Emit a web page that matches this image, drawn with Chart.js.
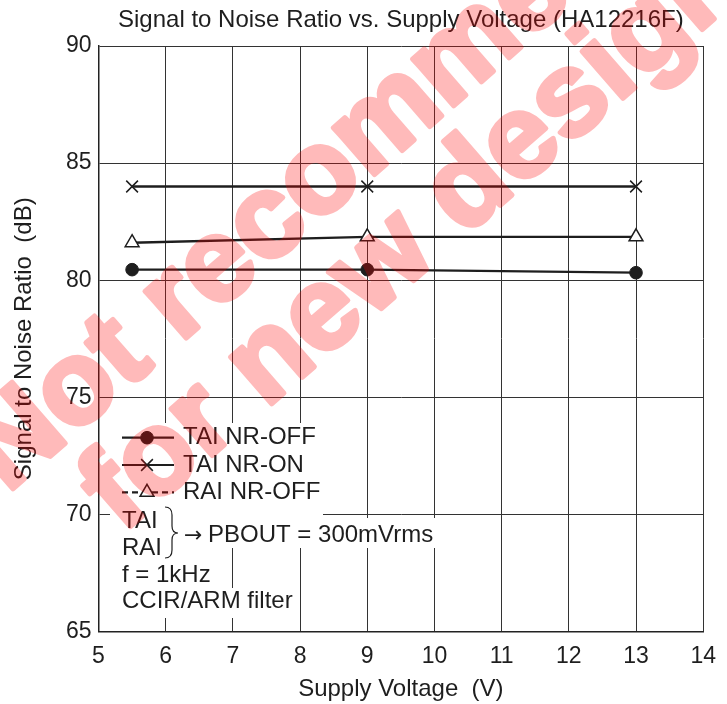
<!DOCTYPE html>
<html>
<head>
<meta charset="utf-8">
<script src="https://cdn.jsdelivr.net/npm/chart.js@4.4.1/dist/chart.umd.min.js"></script>
<style>
  html, body { margin: 0; padding: 0; background: #fff; }
  #wrap { width: 727px; height: 704px; }
</style>
</head>
<body>
<div id="wrap"><canvas id="snr-chart"></canvas></div>
<script>
// Données
const voltage = [5.5, 9, 13];
const taiNrOff = [80.45, 80.45, 80.32];
const taiNrOn = [84.0, 84.0, 84.0];
const raiNrOff = [81.6, 81.85, 81.85];
const seriesLabels = ['TAI NR-OFF', 'TAI NR-ON', 'RAI NR-OFF'];
const xRange = [5, 14];
const yRange = [65, 90];

const FONT = '"Liberation Sans", Arial, Helvetica, sans-serif';
const INK = '#1e1e1e';

const toPoints = ys => voltage.map((v, i) => ({ x: v, y: ys[i] }));

// Titre centré sur la zone du graphe
const titlePlugin = {
    id: 'plotTitle',
    afterDraw(chart) {
        const { ctx, chartArea } = chart;
        ctx.save();
        ctx.fillStyle = INK;
        ctx.font = '24px ' + FONT;
        ctx.textAlign = 'center';
        ctx.textBaseline = 'middle';
        ctx.fillText('Signal to Noise Ratio vs. Supply Voltage (HA12216F)', (chartArea.left + chartArea.right) / 2, 20);
        ctx.restore();
    }
};

// Légende + notes dans le graphe (fond blanc)
const notesPlugin = {
    id: 'notes',
    afterDatasetsDraw(chart) {
        const { ctx } = chart;
        const ds = chart.data.datasets;
        ctx.save();
        ctx.fillStyle = '#fff';
        ctx.fillRect(110, 423, 213, 95);
        ctx.fillRect(110, 508, 72, 54);
        ctx.fillRect(180, 518, 258, 30);
        ctx.fillRect(110, 562, 102, 26);
        ctx.fillRect(110, 588, 184, 30);

        const rows = [437.7, 465, 492.3];
        ds.forEach((d, i) => {
            const y = rows[i];
            ctx.strokeStyle = INK;
            ctx.lineWidth = 2.2;
            ctx.setLineDash(i === 2 ? [6, 4] : []);
            ctx.beginPath();
            ctx.moveTo(122, y);
            ctx.lineTo(174, y);
            ctx.stroke();
            ctx.setLineDash([]);
            ctx.fillStyle = d.pointBackgroundColor;
            ctx.strokeStyle = INK;
            ctx.lineWidth = d.pointBorderWidth;
            Chart.helpers.drawPoint(ctx, {
                pointStyle: d.pointStyle, radius: d.pointRadius,
                borderWidth: d.pointBorderWidth, rotation: 0
            }, 147, y);
            ctx.fillStyle = INK;
            ctx.font = '24px ' + FONT;
            ctx.textAlign = 'left';
            ctx.textBaseline = 'middle';
            ctx.fillText(d.label, 183, y);
        });

        ctx.fillStyle = INK;
        ctx.font = '24px ' + FONT;
        ctx.textAlign = 'left';
        ctx.textBaseline = 'middle';
        ctx.fillText('TAI', 122, 521.7);
        ctx.fillText('RAI', 122, 548.3);
        ctx.fillText('PBOUT = 300mVrms', 208, 535);
        ctx.fillText('f = 1kHz', 122, 575);
        ctx.fillText('CCIR/ARM filter', 122, 601.7);
        ctx.font = '22px "DejaVu Sans", sans-serif';
        ctx.fillText('\u2192', 184, 536);

        // accolade
        ctx.strokeStyle = INK;
        ctx.lineWidth = 1.2;
        ctx.beginPath();
        ctx.moveTo(165, 507);
        ctx.quadraticCurveTo(172, 507, 172, 515);
        ctx.lineTo(172, 526);
        ctx.quadraticCurveTo(172, 533, 178, 533);
        ctx.quadraticCurveTo(172, 533, 172, 540);
        ctx.lineTo(172, 550);
        ctx.quadraticCurveTo(172, 558, 165, 558);
        ctx.stroke();
        ctx.restore();
    }
};

// Filigrane rouge (dessiné opaque hors écran puis posé en transparence)
const watermarkPlugin = {
    id: 'watermark',
    afterDraw(chart) {
        const { ctx } = chart;
        const off = document.createElement('canvas');
        off.width = chart.width;
        off.height = chart.height;
        const o = off.getContext('2d');
        const draw = (text, x, y) => {
            o.save();
            o.translate(x, y);
            o.rotate(-41 * Math.PI / 180);
            o.fillStyle = '#ff0000';
            o.strokeStyle = '#ff0000';
            o.lineWidth = 5;
            o.lineJoin = 'round';
            o.font = 'bold 118px ' + FONT;
            o.textBaseline = 'alphabetic';
            o.fillText(text, 0, 0);
            o.strokeText(text, 0, 0);
            o.restore();
        };
        draw('Not recommended', 7, 494);
        draw('for new design', 122, 534);
        ctx.save();
        ctx.globalAlpha = 0.27;
        ctx.drawImage(off, 0, 0);
        ctx.restore();
    }
};

new Chart(document.getElementById('snr-chart'), {
    type: 'line',
    data: {
        datasets: [
            {
                label: seriesLabels[0],
                data: toPoints(taiNrOff),
                borderColor: INK,
                borderWidth: 2.3,
                pointStyle: 'circle',
                pointRadius: 6.3,
                pointBackgroundColor: INK,
                pointBorderColor: INK,
                pointBorderWidth: 1
            },
            {
                label: seriesLabels[1],
                data: toPoints(taiNrOn),
                borderColor: INK,
                borderWidth: 2.3,
                pointStyle: 'crossRot',
                pointRadius: 8.3,
                pointBackgroundColor: INK,
                pointBorderColor: INK,
                pointBorderWidth: 1.5
            },
            {
                label: seriesLabels[2],
                data: toPoints(raiNrOff),
                borderColor: INK,
                borderWidth: 2.3,
                pointStyle: 'triangle',
                pointRadius: 8,
                pointBackgroundColor: '#fff',
                pointBorderColor: INK,
                pointBorderWidth: 1.5
            }
        ]
    },
    options: {
        responsive: true,
        maintainAspectRatio: false,
        animation: false,
        devicePixelRatio: 1,
        layout: { padding: { top: 46, right: 18, left: 0, bottom: 0 } },
        plugins: {
            legend: { display: false },
            title: { display: false },
            tooltip: { enabled: false }
        },
        scales: {
            x: {
                type: 'linear',
                min: xRange[0],
                max: xRange[1],
                afterFit: s => { s.height = 72.5; },
                grid: { color: '#333', lineWidth: 1, drawTicks: false },
                border: { color: '#222', width: 1.5 },
                ticks: { stepSize: 1, padding: 11, color: INK, font: { family: FONT, size: 23 } },
                title: {
                    display: true,
                    text: 'Supply Voltage  (V)',
                    color: INK,
                    font: { family: FONT, size: 24 },
                    padding: { top: 3.5, bottom: 0 }
                }
            },
            y: {
                min: yRange[0],
                max: yRange[1],
                afterFit: s => { s.width = 98.5; },
                grid: { color: '#333', lineWidth: 1, drawTicks: false },
                border: { color: '#222', width: 1.5 },
                ticks: { stepSize: 5, padding: 7, color: INK, font: { family: FONT, size: 23 } },
                title: {
                    display: true,
                    text: 'Signal to Noise Ratio  (dB)',
                    color: INK,
                    font: { family: FONT, size: 24 },
                    padding: { top: 10, bottom: 0 }
                }
            }
        }
    },
    plugins: [notesPlugin, titlePlugin, watermarkPlugin]
});
</script>
</body>
</html>
